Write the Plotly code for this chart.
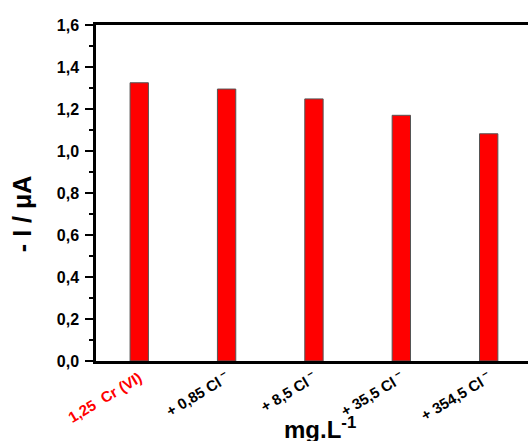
import plotly.graph_objects as go

categories = ["1,25  Cr (VI)", "+ 0,85 Cl", "+ 8,5 Cl", "+ 35,5 Cl", "+ 354,5 Cl"]
tick_labels = [
    "<span style='color:#ff0000'>1,25  Cr (VI)</span>",
    "+ 0,85 Cl<sup> −</sup>",
    "+ 8,5 Cl<sup> −</sup>",
    "+ 35,5 Cl<sup> −</sup>",
    "+ 354,5 Cl<sup> −</sup>",
]
current_uA = [1.325, 1.295, 1.248, 1.170, 1.082]
y_ticks = [0.0, 0.2, 0.4, 0.6, 0.8, 1.0, 1.2, 1.4, 1.6]
y_tick_labels = ["0,0", "0,2", "0,4", "0,6", "0,8", "1,0", "1,2", "1,4", "1,6"]

FONT = "Liberation Sans, Arial, sans-serif"

fig = go.Figure(
    go.Bar(
        x=list(range(len(categories))),
        y=current_uA,
        width=0.21,
        marker=dict(color="#ff0000", line=dict(color="#555555", width=1)),
        hoverinfo="skip",
    )
)

fig.update_layout(
    width=528,
    height=441,
    margin=dict(l=96, r=0, t=25, b=80),
    paper_bgcolor="white",
    plot_bgcolor="white",
    showlegend=False,
    font=dict(family=FONT, color="black"),
)

fig.update_xaxes(
    range=[-0.495, 4.45],
    automargin=False,
    tickmode="array",
    tickvals=list(range(len(categories))),
    ticktext=tick_labels,
    tickangle=-31,
    ticks="",
    showline=True,
    linewidth=2.5,
    linecolor="black",
    mirror=True,
    showgrid=False,
    zeroline=False,
    tickfont=dict(family=FONT, size=15, weight="bold", color="black"),
)

fig.update_yaxes(
    range=[0, 1.6],
    automargin=False,
    tickmode="array",
    tickvals=y_ticks,
    ticktext=y_tick_labels,
    ticks="outside",
    ticklen=8,
    tickwidth=2,
    tickcolor="black",
    minor=dict(ticks="outside", ticklen=4, tickwidth=2, tickcolor="black", dtick=0.1, showgrid=False),
    showline=True,
    linewidth=2.5,
    linecolor="black",
    showgrid=False,
    zeroline=False,
    tickfont=dict(family=FONT, size=16, weight="bold", color="black"),
    ticklabelstandoff=3,
)

fig.add_annotation(
    text="- I / μA",
    xref="paper", yref="paper",
    x=-0.171, y=0.4375,
    xanchor="center", yanchor="middle",
    textangle=-90,
    showarrow=False,
    font=dict(family=FONT, size=25, weight="bold", color="black"),
)

fig.add_annotation(
    text="mg.L<sup>-1</sup>",
    xref="paper", yref="paper",
    x=0.5185, y=-0.199,
    xanchor="center", yanchor="middle",
    showarrow=False,
    font=dict(family=FONT, size=24, weight="bold", color="black"),
)

fig.write_html(
    "out.html",
    config={"displayModeBar": False},
    post_script="document.body.style.margin='0';",
)
